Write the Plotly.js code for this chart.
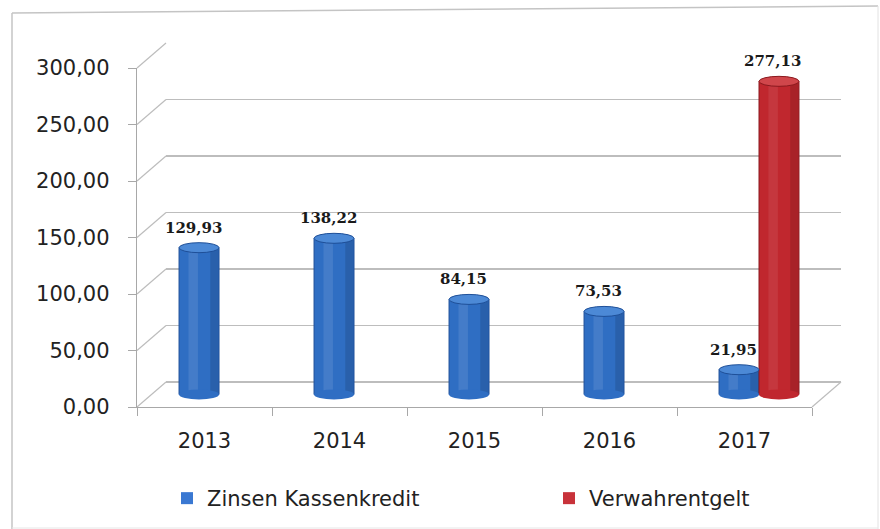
<!DOCTYPE html>
<html>
<head>
<meta charset="utf-8">
<script src="https://cdn.plot.ly/plotly-3.0.1.min.js"></script>
<style>html,body{margin:0;padding:0;background:#fff;}#chart{width:880px;height:529px;}</style>
</head>
<body>
<div id="chart"></div>
<script>
// ---- data ----
const categories = ['2013', '2014', '2015', '2016', '2017'];
const zinsenKassenkredit = [129.93, 138.22, 84.15, 73.53, 21.95];
const verwahrentgelt = [null, null, null, null, 277.13];
const seriesNames = ['Zinsen Kassenkredit', 'Verwahrentgelt'];
const yTicks = [0, 50, 100, 150, 200, 250, 300];

// ---- geometry (pixels) ----
const PL = 120, PR = 852, PT = 30, PB = 420;
const PW = PR - PL, PH = PB - PT;
const px = v => (v - PL) / PW;
const py = v => (PB - v) / PH;
const FL = 137, FR = 812, F0 = 407, F300 = 68;   // front frame
const DX = 29, DY = 25;                           // depth offset
const K = (F0 - F300) / 300;                      // px per unit
const MX = DX / 2, MY = DY / 2;                   // bars at mid depth
const barMin = -15, barMax = 310;
const mid0 = F0 - MY;

const W = 0.296;                                  // bar width in category units
const capU = 5 / K;                               // cap half height in units

const blue = '#2F6EC3', blueDark = '#1E4F98', blueCap = '#4C89D6';
const red = '#C0272E', redDark = '#8A191E', redCap = '#D0464B';

const idx = categories.map((c, i) => i);
const fmt = v => v.toFixed(2).replace('.', ',');

const traces = [];
// dummy trace so back wall subplot exists
traces.push({type: 'scatter', x: [0], y: [null], xaxis: 'x2', yaxis: 'y2', showlegend: false, hoverinfo: 'skip'});
// main bars
traces.push({type: 'bar', x: idx, y: zinsenKassenkredit, width: W, offset: -W, name: seriesNames[0],
  xaxis: 'x3', yaxis: 'y3', marker: {color: blue, line: {color: blueDark, width: 1}}, hoverinfo: 'skip', showlegend: false});
traces.push({type: 'bar', x: idx, y: verwahrentgelt, width: W, offset: 0, name: seriesNames[1],
  xaxis: 'x3', yaxis: 'y3', marker: {color: red, line: {color: redDark, width: 1}}, hoverinfo: 'skip', showlegend: false});
// shading stripes
traces.push({type: 'bar', x: idx, y: zinsenKassenkredit, width: 0.07, offset: -W + 0.07,
  xaxis: 'x3', yaxis: 'y3', marker: {color: 'rgba(255,255,255,0.10)'}, hoverinfo: 'skip', showlegend: false});
traces.push({type: 'bar', x: idx, y: zinsenKassenkredit, width: 0.06, offset: -0.065,
  xaxis: 'x3', yaxis: 'y3', marker: {color: 'rgba(0,0,0,0.12)'}, hoverinfo: 'skip', showlegend: false});
traces.push({type: 'bar', x: idx, y: verwahrentgelt, width: 0.07, offset: 0.07,
  xaxis: 'x3', yaxis: 'y3', marker: {color: 'rgba(255,255,255,0.08)'}, hoverinfo: 'skip', showlegend: false});
traces.push({type: 'bar', x: idx, y: verwahrentgelt, width: 0.06, offset: W - 0.065,
  xaxis: 'x3', yaxis: 'y3', marker: {color: 'rgba(0,0,0,0.12)'}, hoverinfo: 'skip', showlegend: false});
// legend entries (on front axis, no visible data)
const noVals = categories.map(() => null);
traces.push({type: 'bar', x: categories, y: noVals, name: seriesNames[0], marker: {color: '#3A78D2'},
  xaxis: 'x', yaxis: 'y', hoverinfo: 'skip', legend: 'legend'});
traces.push({type: 'bar', x: categories, y: noVals, name: seriesNames[1], marker: {color: '#C8323A'},
  xaxis: 'x', yaxis: 'y', hoverinfo: 'skip', legend: 'legend2'});

const shapes = [];
const annotations = [];
// cylinder caps and value labels
function addCaps(vals, off, body, edge, cap) {
  vals.forEach((v, i) => {
    if (v === null) return;
    shapes.push({type: 'circle', xref: 'x3', yref: 'y3', x0: i + off, x1: i + off + W,
      y0: -capU, y1: capU, fillcolor: body, line: {width: 0}, layer: 'above'});
    shapes.push({type: 'circle', xref: 'x3', yref: 'y3', x0: i + off, x1: i + off + W,
      y0: v - capU, y1: v + capU, fillcolor: cap, line: {color: edge, width: 1}, layer: 'above'});
    annotations.push({xref: 'x3', yref: 'y3', x: i + off + W / 2, y: v, yshift: 20, xshift: -6,
      text: fmt(v), showarrow: false,
      font: {family: 'DejaVu Serif', size: 15, color: '#1a1a1a', weight: 'bold'}});
  });
}
addCaps(zinsenKassenkredit, -W, blue, blueDark, blueCap);
addCaps(verwahrentgelt, 0, red, redDark, redCap);

const gridColor = '#BDBDBD';
// left wall connectors
yTicks.forEach(v => {
  shapes.push({type: 'line', xref: 'paper', yref: 'paper',
    x0: px(FL), y0: py(F0 - v * K), x1: px(FL + DX), y1: py(F0 - DY - v * K),
    line: {color: gridColor, width: 1.2}, layer: 'below'});
});
// right floor edge
shapes.push({type: 'line', xref: 'paper', yref: 'paper',
  x0: px(FR), y0: py(F0), x1: px(FR + DX), y1: py(F0 - DY),
  line: {color: gridColor, width: 1.2}, layer: 'below'});
// outer frame (slightly tilted scan edge)
shapes.push({type: 'line', xref: 'paper', yref: 'paper', x0: px(12), y0: py(13), x1: px(878), y1: py(6),
  line: {color: '#C4C4C4', width: 1.5}, layer: 'below'});
shapes.push({type: 'line', xref: 'paper', yref: 'paper', x0: px(12), y0: py(13), x1: px(12), y1: py(529),
  line: {color: '#C4C4C4', width: 1.5}, layer: 'below'});
shapes.push({type: 'line', xref: 'paper', yref: 'paper', x0: px(878), y0: py(6), x1: px(878), y1: py(529),
  line: {color: '#E2E2E2', width: 1}, layer: 'below'});
shapes.push({type: 'line', xref: 'paper', yref: 'paper', x0: px(12), y0: py(528), x1: px(878), y1: py(528),
  line: {color: '#E6E6E6', width: 1}, layer: 'below'});

const tickFont = {family: 'DejaVu Sans', size: 21, color: '#222'};
const legendFont = {family: 'DejaVu Sans', size: 21, color: '#222'};

const layout = {
  width: 880, height: 529,
  margin: {l: PL, r: 880 - PR, t: PT, b: 529 - PB, pad: 0, autoexpand: false},
  paper_bgcolor: '#fff', plot_bgcolor: 'rgba(0,0,0,0)',
  separators: ',.',
  barmode: 'overlay',
  showlegend: true,
  legend: {orientation: 'h', x: px(167), xanchor: 'left', y: py(478), yanchor: 'top',
    font: legendFont, itemwidth: 30, bgcolor: 'rgba(0,0,0,0)'},
  legend2: {orientation: 'h', x: px(549), xanchor: 'left', y: py(478), yanchor: 'top',
    font: legendFont, itemwidth: 30, bgcolor: 'rgba(0,0,0,0)'},
  xaxis: {domain: [px(FL), px(FR)], type: 'category', categoryorder: 'array', categoryarray: categories,
    range: [-0.5, 4.5], anchor: 'y',
    showgrid: false, zeroline: false, showline: true, linecolor: '#A8A8A8', linewidth: 1.2,
    ticks: 'outside', tickson: 'boundaries', ticklen: 8, tickcolor: '#A8A8A8',
    tickfont: tickFont, ticklabelstandoff: 15, fixedrange: true},
  yaxis: {domain: [py(F0), py(F300)], range: [0, 300], anchor: 'x', tickvals: yTicks,
    tickformat: '.2f', showgrid: false, zeroline: false, showline: true, linecolor: '#A8A8A8', linewidth: 1.2,
    ticks: 'outside', ticklen: 8, tickcolor: '#A8A8A8', tickfont: tickFont, ticklabelstandoff: 14, fixedrange: true},
  // back wall
  xaxis2: {domain: [px(FL + DX), px(FR + DX)], range: [-0.5, 4.5], anchor: 'y2', visible: false, fixedrange: true},
  yaxis2: {domain: [py(F0 - DY), py(F300 - DY)], range: [0, 300], anchor: 'x2', tickvals: yTicks,
    showticklabels: false, showgrid: true, gridcolor: gridColor, gridwidth: 1.2,
    zeroline: true, zerolinecolor: gridColor, zerolinewidth: 1.2, showline: false, ticks: '', fixedrange: true},
  // bars (mid depth)
  xaxis3: {domain: [px(FL + MX), px(FR + MX)], range: [-0.5, 4.5], anchor: 'y3', visible: false, fixedrange: true},
  yaxis3: {domain: [py(mid0 - barMin * K), py(mid0 - barMax * K)], range: [barMin, barMax], anchor: 'x3',
    visible: false, fixedrange: true},
  shapes: shapes,
  annotations: annotations
};

Plotly.newPlot('chart', traces, layout, {displayModeBar: false, staticPlot: true});
</script>
</body>
</html>
